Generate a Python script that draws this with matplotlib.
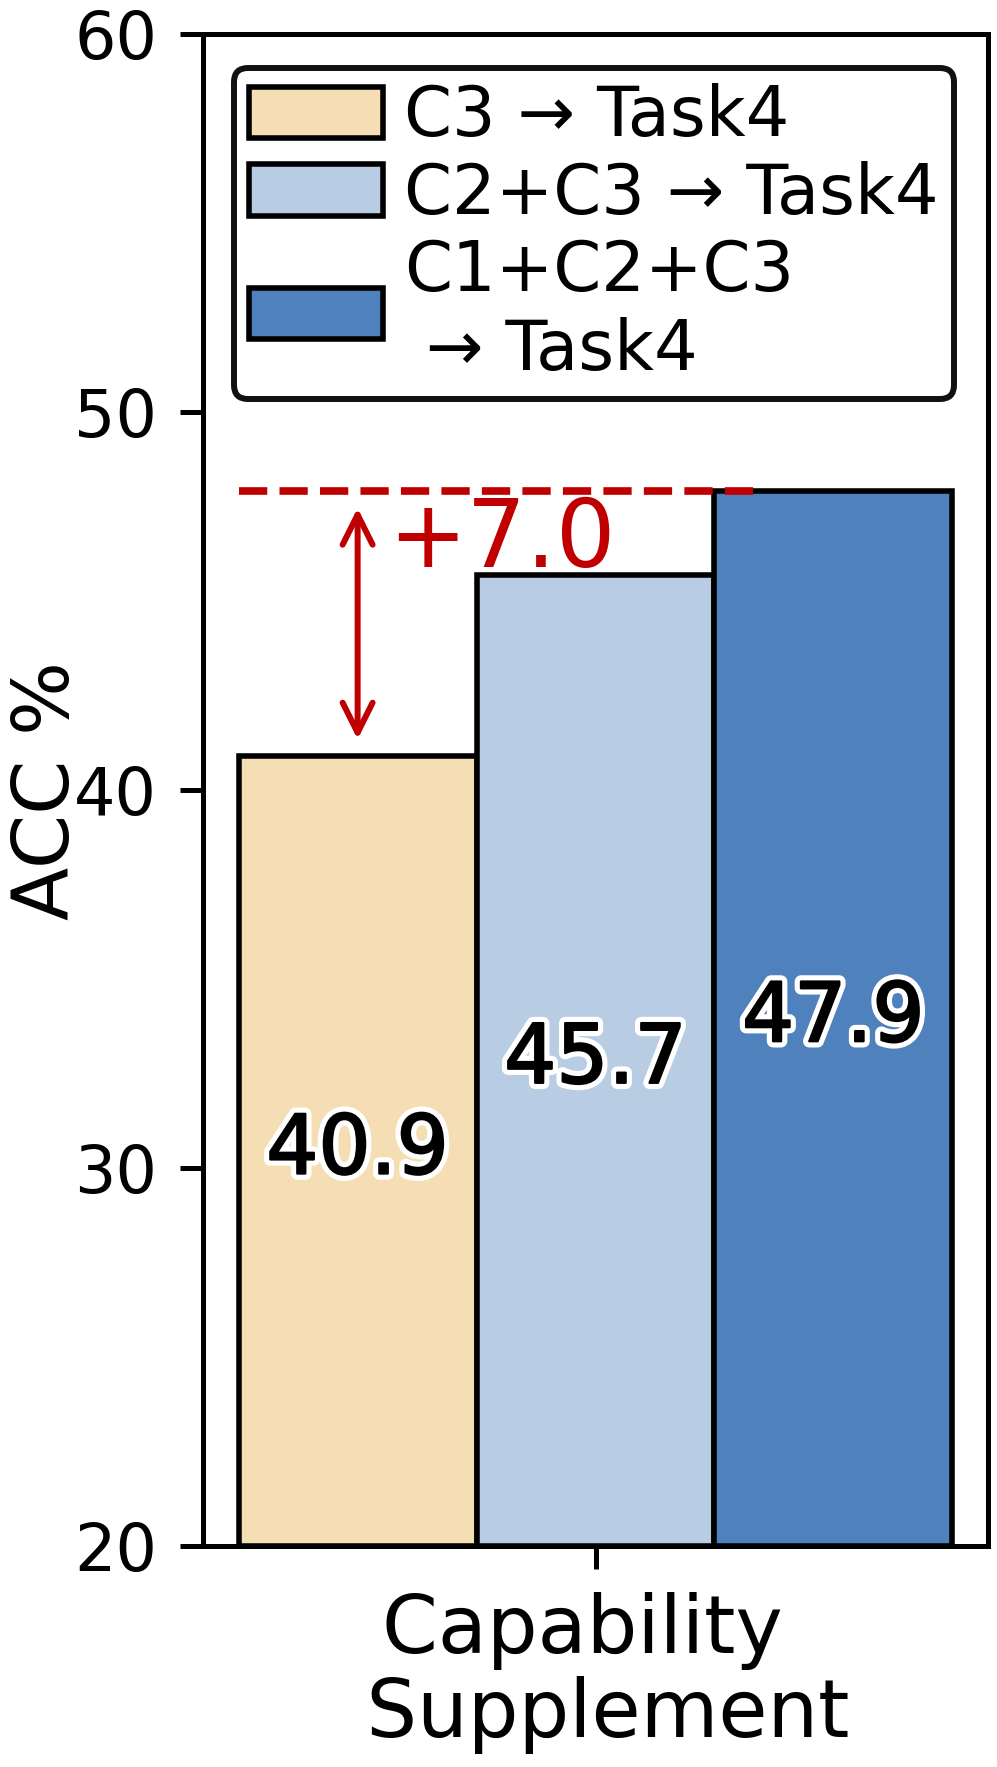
import matplotlib
matplotlib.use("Agg")
import matplotlib.pyplot as plt
import matplotlib.patheffects as pe

# data
categories = ["Capability \n Supplement"]
series_labels = ["C3 \u2192 Task4", "C2+C3 \u2192 Task4", "C1+C2+C3\n \u2192 Task4"]
values = [40.9, 45.7, 47.9]
colors = ["#F5DEB3", "#B8CCE4", "#4F81BD"]
gain_text = "+7.0"
y_ticks = [20, 30, 40, 50, 60]

red = "#C00000"
width = 0.3
offsets = [-width, 0.0, width]

fig = plt.figure(figsize=(9.97, 17.67), dpi=100)
ax = fig.add_axes([0.2036, 0.125, 0.7874, 0.8558])

for i, (v, c, lab) in enumerate(zip(values, colors, series_labels)):
    ax.bar(0 + offsets[i], v - 20, width=width, bottom=20, color=c,
           edgecolor="black", linewidth=4.0, label=lab, zorder=2)
    ax.text(0 + offsets[i], 20 + (v - 20) / 2, f"{v:.1f}", ha="center", va="center",
            fontsize=59, color="black", zorder=5,
            path_effects=[pe.Stroke(linewidth=9, foreground="white"),
                          pe.Stroke(linewidth=1.6, foreground="black"),
                          pe.Normal()])

# dashed reference line at max value
ax.hlines(values[2], offsets[0] - width / 2, 0.2, colors=red, linestyles="--",
          linewidth=5.5, zorder=4)

# double arrow between first bar and max
ax.annotate("", xy=(offsets[0], values[0]), xytext=(offsets[0], values[2]),
            arrowprops=dict(arrowstyle="<->", color=red, lw=4.3, mutation_scale=54,
                            shrinkA=12, shrinkB=12), zorder=4)
ax.text(-0.262, 45.9, gain_text, ha="left", va="baseline", fontsize=67.5, color=red, zorder=4)

ax.set_ylim(20, 60)
ax.set_yticks(y_ticks)
ax.set_xticks([0])
ax.set_xticklabels(categories, fontsize=57.6, linespacing=1.1)
ax.tick_params(axis="y", labelsize=47)
ax.tick_params(length=16.5, width=3.6, pad=16.5)
ax.set_ylabel("ACC %", fontsize=56, labelpad=-8)
for s in ax.spines.values():
    s.set_linewidth(3.6)

leg = ax.legend(loc="upper right", fontsize=49.5, borderaxespad=0.5, borderpad=0.22,
                labelspacing=0.15, handlelength=1.95, handleheight=0.78,
                handletextpad=0.3, framealpha=1, edgecolor="#111111", fancybox=True)
leg.get_frame().set_linewidth(4.3)
for t in leg.get_texts():
    t.set_linespacing(1.22)

fig.savefig("out.png", dpi=100)
